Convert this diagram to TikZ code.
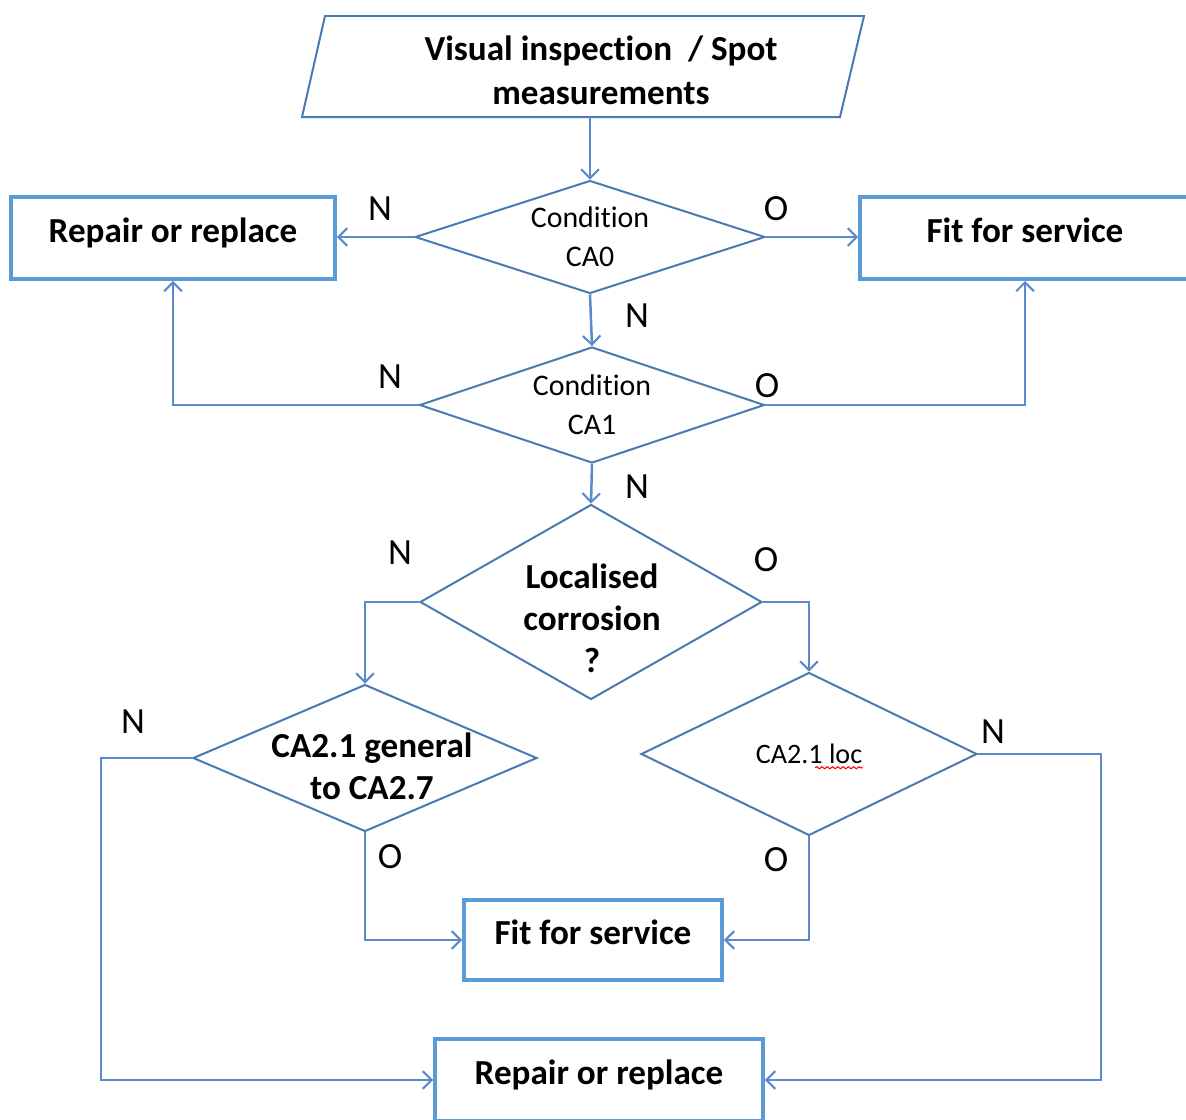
\documentclass[tikz,border=0pt]{standalone}
\usepackage{fontspec}
\setmainfont{Carlito}[Ligatures={NoCommon,NoDiscretionary}]
\usetikzlibrary{positioning,arrows.meta,shapes.geometric,decorations.pathmorphing}
\definecolor{boxblue}{HTML}{5B9BD5}
\definecolor{diablue}{HTML}{4A7AB0}
\definecolor{linkblue}{HTML}{5A8ACB}
\tikzset{
  outbox/.style={rectangle,draw=boxblue,line width=0.08cm,fill=white,align=center,
    font=\fontsize{20}{24}\selectfont\bfseries,inner sep=0pt,text height=0.53cm,text depth=0.36cm},
  inline/.style={draw=diablue,line width=0.04cm},
  dec/.style={diamond,draw=diablue,line width=0.04cm,inner sep=0pt},
  dectxt/.style={align=center,inner sep=0pt},
  small/.style={font=\fontsize{17}{22}\selectfont},
  big/.style={font=\fontsize{20}{24}\selectfont\bfseries},
  yn/.style={font=\fontsize{21}{24}\selectfont,inner sep=0pt},
  flow/.style={draw=linkblue,line width=0.05cm,-{Straight Barb[length=5pt,width=10pt,line width=1.2pt]}},
}
\begin{document}
\begin{tikzpicture}[x=0.02cm,y=-0.02cm]
  \useasboundingbox (0,0) rectangle (1186,1119);
  % start
  \draw[inline] (302,117) -- (325,16) -- (864,16) -- (840,117) -- cycle;
  \coordinate (visb) at (583,117);
  \node[dectxt,font=\fontsize{20}{25}\selectfont\bfseries] (vis) at (601,70)
    {Visual inspection~ / Spot\\measurements};
  % first two checks
  \node[dec,minimum width=7.0cm,minimum height=2.26cm] (ca0) at (590,237) {};
  \node[dectxt,small] (ca0t) at (ca0) {Condition\\CA0};
  \node[outbox,minimum width=6.48cm,minimum height=1.64cm] (rep1) at (173,238) {Repair or replace};
  \node[outbox,minimum width=6.6cm,minimum height=1.64cm] (fit1) at (1025,238) {Fit for service};
  \node[dec,minimum width=6.9cm,minimum height=2.32cm] (ca1) at (592,405) {};
  \node[dectxt,small] (ca1t) at (ca1) {Condition\\CA1};
  % corrosion type
  \node[dec,minimum width=6.84cm,minimum height=3.9cm] (loc) at (591,602) {};
  \node[dectxt,big] (loct) at (592,618) {Localised\\corrosion\\?};
  \node[dec,minimum width=6.88cm,minimum height=2.94cm] (gen) at (365,758) {};
  \node[dectxt,big] (gent) at (372,766) {CA2.1 general\\to CA2.7};
  \node[dec,minimum width=6.72cm,minimum height=3.26cm] (cloc) at (809,754) {};
  \node[dectxt,font=\fontsize{16}{20}\selectfont] (cloct) at (809,754) {CA2.1 loc};
  \draw[red,line width=0.6pt,decorate,decoration={snake,amplitude=0.6pt,segment length=3pt}]
    ([xshift=-27pt,yshift=-2pt]cloct.south east) -- ([yshift=-2pt]cloct.south east);
  % results
  \node[outbox,minimum width=5.16cm,minimum height=1.6cm] (fit2) at (593,940) {Fit for service};
  \node[outbox,minimum width=6.56cm,minimum height=1.64cm] (rep2) at (599,1080) {Repair or replace};
  % connectors
  \draw[flow] (ca0.north |- visb) -- (ca0.north);
  \draw[flow] (ca0.west) -- (ca0.west -| rep1.east);
  \draw[flow] (ca0.east) -- (ca0.east -| fit1.west);
  \draw[flow] (ca0.south) -- (ca1.north);
  \draw[flow] (ca1.west) -| (rep1.south);
  \draw[flow] (ca1.east) -| (fit1.south);
  \draw[flow] (ca1.south) -- (loc.north);
  \draw[flow] (loc.west) -| (gen.north);
  \draw[flow] (loc.east) -| (cloc.north);
  \draw[flow] (gen.west) -- ++(-91,0) |- (rep2.west);
  \draw[flow] (gen.south) |- (fit2.west);
  \draw[flow] (cloc.south) |- (fit2.east);
  \draw[flow] (cloc.east) -- ++(123,0) |- (rep2.east);
  % N / O labels
  \node[yn] (n1) at (380,209) {N};
  \node[yn] (o1) at (776,209) {O};
  \node[yn] (n2) at (637,316) {N};
  \node[yn] (n3) at (390,377) {N};
  \node[yn] (o2) at (767,386) {O};
  \node[yn] (n4) at (637,487) {N};
  \node[yn] (n5) at (400,553) {N};
  \node[yn] (o3) at (766,560) {O};
  \node[yn] (n6) at (133,722) {N};
  \node[yn] (n7) at (993,732) {N};
  \node[yn] (o4) at (390,857) {O};
  \node[yn] (o5) at (776,860) {O};
\end{tikzpicture}
\end{document}
